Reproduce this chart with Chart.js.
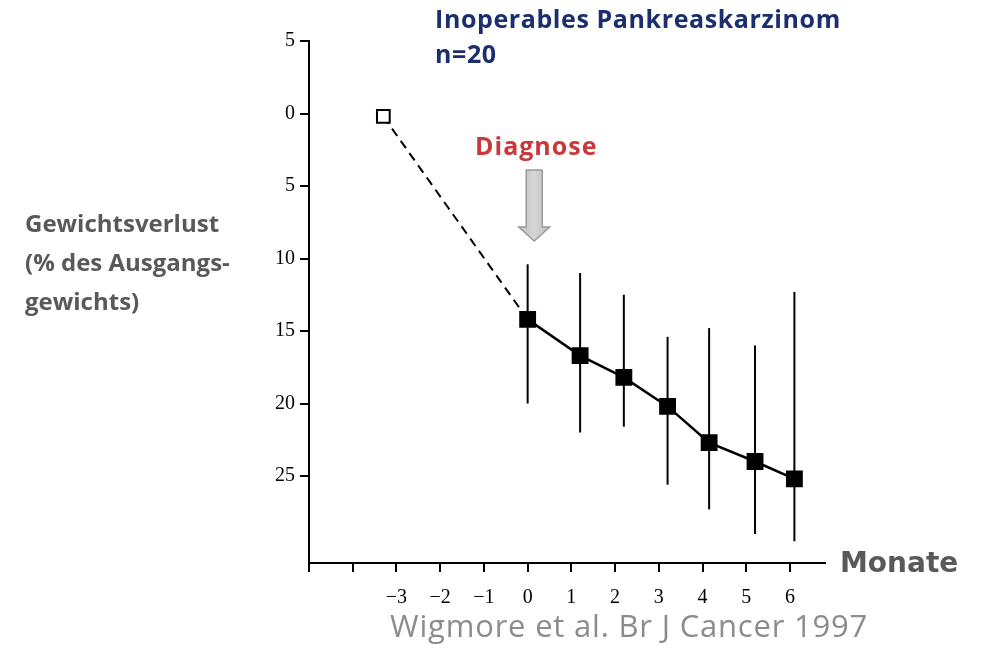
<!DOCTYPE html>
<html lang="de">
<head>
<meta charset="utf-8">
<title>Gewichtsverlust – Inoperables Pankreaskarzinom</title>
<script src="https://cdn.jsdelivr.net/npm/chart.js@4.4.1/dist/chart.umd.min.js"></script>
<style>
  html, body { margin: 0; padding: 0; background: #fff; }
  #wrap { position: relative; width: 989px; height: 653px; overflow: hidden; }
  #grafico { position: absolute; left: 0; top: 0; }
  .txt { position: absolute; white-space: nowrap; }
  #titel { left: 435px; top: 1px; font: bold 25px "Open Sans", sans-serif; letter-spacing: 0.6px; line-height: 35px; color: #1b2f6e; }
  #diagnose { left: 475px; top: 133px; font: bold 25px "Open Sans", sans-serif; letter-spacing: 1px; line-height: 1; color: #c9383a; }
  #ytitel { left: 25px; top: 203px; font: bold 24px "Open Sans", sans-serif; line-height: 39px; color: #595959; }
  #monate { left: 840px; top: 549px; font: bold 28px "DejaVu Sans", sans-serif; line-height: 1; color: #595959; }
  #quelle { left: 390px; top: 610px; font: 31px "Open Sans", sans-serif; letter-spacing: 0.8px; line-height: 1; color: #8c8c8c; }
</style>
</head>
<body>
<div id="wrap">
  <canvas id="grafico" width="989" height="653"></canvas>
  <div class="txt" id="titel">Inoperables Pankreaskarzinom<br>n=20</div>
  <div class="txt" id="diagnose">Diagnose</div>
  <div class="txt" id="ytitel">Gewichtsverlust<br>(% des Ausgangs-<br>gewichts)</div>
  <div class="txt" id="monate">Monate</div>
  <div class="txt" id="quelle">Wigmore et al. Br J Cancer 1997</div>
</div>
<script>
// Monate relativ zur Diagnose (erster Punkt: Ausgangsgewicht vor Diagnose)
const monate = [-3.3, 0, 1.2, 2.2, 3.2, 4.15, 5.2, 6.1];
// Gewichtsverlust in % des Ausgangsgewichts
const gewichtsverlust = [0.2, 14.2, 16.7, 18.2, 20.2, 22.7, 24.0, 25.2];
// Fehlerbalken (obere / untere Enden)
const fehlerOben = [null, 10.4, 11.0, 12.5, 15.4, 14.8, 16.0, 12.3];
const fehlerUnten = [null, 20.0, 22.0, 21.6, 25.6, 27.3, 29.0, 29.5];

const xTicks = [-5, -4, -3, -2, -1, 0, 1, 2, 3, 4, 5, 6];
const xLabelAb = -3;
const yTicks = [-5, 0, 5, 10, 15, 20, 25];

// Pfeil "Diagnose" in Datenkoordinaten
const pfeil = { x: 0.15, von: 3.9, bis: 8.8 };

const fehlerBalken = {
  id: "fehlerBalken",
  beforeDatasetsDraw(chart) {
    const { ctx, scales: { x, y } } = chart;
    ctx.save();
    ctx.strokeStyle = "#000";
    ctx.lineWidth = 2;
    monate.forEach((m, i) => {
      if (fehlerOben[i] == null) return;
      const px = x.getPixelForValue(m);
      ctx.beginPath();
      ctx.moveTo(px, y.getPixelForValue(fehlerOben[i]));
      ctx.lineTo(px, y.getPixelForValue(fehlerUnten[i]));
      ctx.stroke();
    });
    ctx.restore();
  }
};

const diagnosePfeil = {
  id: "diagnosePfeil",
  afterDraw(chart) {
    const { ctx, scales: { x, y } } = chart;
    const cx = x.getPixelForValue(pfeil.x);
    const top = y.getPixelForValue(pfeil.von);
    const tip = y.getPixelForValue(pfeil.bis);
    const kopf = 14, schaft = 8, breit = 15.5;
    const grad = ctx.createLinearGradient(cx - breit, 0, cx + breit, 0);
    grad.addColorStop(0, "#bdbdbd");
    grad.addColorStop(0.5, "#d6d6d6");
    grad.addColorStop(1, "#bdbdbd");
    ctx.save();
    ctx.beginPath();
    ctx.moveTo(cx - schaft, top);
    ctx.lineTo(cx + schaft, top);
    ctx.lineTo(cx + schaft, tip - kopf);
    ctx.lineTo(cx + breit, tip - kopf);
    ctx.lineTo(cx, tip);
    ctx.lineTo(cx - breit, tip - kopf);
    ctx.lineTo(cx - schaft, tip - kopf);
    ctx.closePath();
    ctx.fillStyle = grad;
    ctx.fill();
    ctx.strokeStyle = "#9a9a9a";
    ctx.lineWidth = 1.5;
    ctx.stroke();
    ctx.restore();
  }
};

const grafico = new Chart(document.getElementById("grafico"), {
  type: "scatter",
  data: {
    datasets: [{
      data: monate.map((m, i) => ({ x: m, y: gewichtsverlust[i] })),
      showLine: true,
      borderColor: "#000",
      borderWidth: 2.5,
      pointStyle: "rect",
      pointRadius: monate.map((m, i) => i === 0 ? 9 : 10.5),
      pointBackgroundColor: monate.map((m, i) => i === 0 ? "#fff" : "#000"),
      pointBorderColor: "#000",
      pointBorderWidth: 2,
      segment: {
        borderDash: c => c.p0DataIndex === 0 ? [9, 6] : undefined,
        borderWidth: c => c.p0DataIndex === 0 ? 2 : 2.5
      }
    }]
  },
  options: {
    responsive: false,
    animation: false,
    events: [],
    layout: { padding: { left: 0, top: 41, right: 164, bottom: 0 } },
    plugins: {
      legend: { display: false },
      tooltip: { enabled: false }
    },
    scales: {
      x: {
        type: "linear",
        min: -5,
        max: 6.8,
        afterFit: s => { s.height = 90; },
        afterBuildTicks: s => { s.ticks = xTicks.map(v => ({ value: v })); },
        grid: { drawOnChartArea: false, drawTicks: true, tickLength: 9, color: "#000", lineWidth: 2 },
        border: { color: "#000", width: 2 },
        ticks: {
          padding: 14,
          color: "#000",
          font: { family: "Liberation Serif", size: 20 },
          callback: v => v < xLabelAb ? "" : (v < 0 ? "\u2212" + Math.abs(v) : String(v))
        }
      },
      y: {
        reverse: true,
        min: -5,
        max: 31,
        afterFit: s => { s.width = 309; },
        afterBuildTicks: s => { s.ticks = yTicks.map(v => ({ value: v })); },
        grid: { drawOnChartArea: false, drawTicks: true, tickLength: 9, color: "#000", lineWidth: 2 },
        border: { color: "#000", width: 2 },
        ticks: {
          padding: 5,
          color: "#000",
          font: { family: "Liberation Serif", size: 20 },
          callback: v => String(Math.abs(v))
        }
      }
    }
  },
  plugins: [fehlerBalken, diagnosePfeil]
});
</script>
</body>
</html>
